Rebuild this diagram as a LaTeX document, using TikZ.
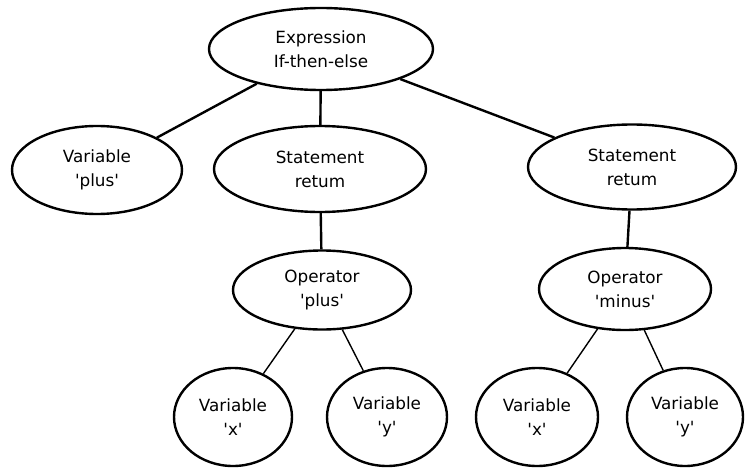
\documentclass[tikz,border=0pt]{standalone}
\usepackage{fontspec}
\setmainfont{DejaVu Sans}
\usetikzlibrary{shapes.geometric}
\newcommand{\sqt}{\textquotesingle}
\tikzset{
  term/.style={ellipse,draw,line width=2.4pt,inner sep=0pt,align=center,
    font=\fontsize{16.8}{24}\selectfont},
  edge/.style={line width=2.4pt},
  leafedge/.style={line width=1.4pt}
}

\begin{document}
\begin{tikzpicture}[x=1pt,y=-1pt]
  \useasboundingbox (0,0) rectangle (746,468);

  % Root
  \node[term,minimum width=224pt,minimum height=82pt] (expr) at (321,49) {Expression\\If-then-else};

  % Second level
  \node[term,minimum width=170pt,minimum height=88pt] (varplus) at (97,170) {Variable\\\sqt plus\sqt};
  \node[term,minimum width=212pt,minimum height=86pt] (stmtl) at (320,169) {Statement\\retum};
  \node[term,minimum width=208pt,minimum height=85pt] (stmtr) at (632,167) {Statement\\retum};

  % Operators
  \node[term,minimum width=178pt,minimum height=79pt] (opplus) at (322,290) {Operator\\\sqt plus\sqt};
  \node[term,minimum width=172pt,minimum height=82pt] (opminus) at (625,289) {Operator\\\sqt minus\sqt};

  % Leaves
  \node[term,minimum width=118pt,minimum height=98pt] (varxl) at (233,417) {Variable\\\sqt x\sqt};
  \node[term,minimum width=120pt,minimum height=98pt] (varyl) at (387,417) {Variable\\\sqt y\sqt};
  \node[term,minimum width=122pt,minimum height=98pt] (varxr) at (537,417) {Variable\\\sqt x\sqt};
  \node[term,minimum width=116pt,minimum height=98pt] (varyr) at (685,417) {Variable\\\sqt y\sqt};

  % Connectors
  \draw[edge] (expr) -- (varplus);
  \draw[edge] (expr) -- (stmtl);
  \draw[edge] (expr) -- (stmtr);
  \draw[edge] (stmtl) -- (opplus);
  \draw[edge] (stmtr) -- (opminus);
  \draw[leafedge] (opplus) -- (varxl);
  \draw[leafedge] (opplus) -- (varyl);
  \draw[leafedge] (opminus) -- (varxr);
  \draw[leafedge] (opminus) -- (varyr);
\end{tikzpicture}
\end{document}
